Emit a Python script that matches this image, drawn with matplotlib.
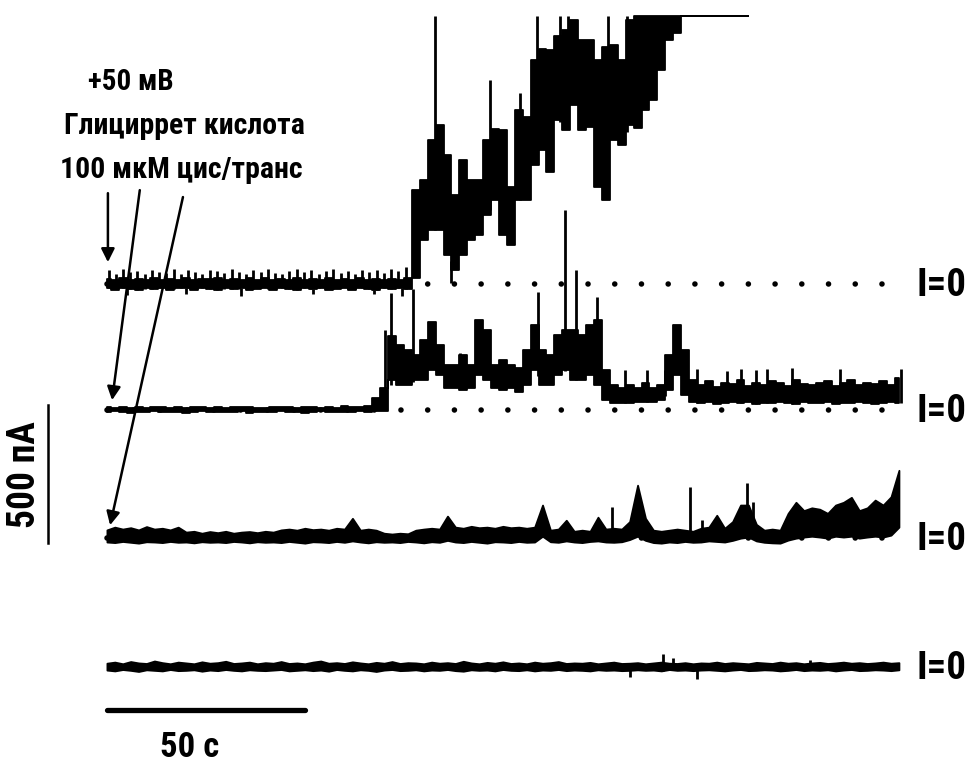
import matplotlib
matplotlib.use("Agg")
import matplotlib.pyplot as plt
import numpy as np

plt.rcParams['font.family'] = ['Roboto Condensed', 'Liberation Sans', 'DejaVu Sans']
plt.rcParams['font.weight'] = 'bold'

# time grid, s (one envelope sample every 2 s)
t = np.arange(0, 201, 2)

# vertical offset of each trace (pA), top to bottom
offsets = [1388, 931, 467, 0]

# ---- trace 1: +50 mV, top trace (saturates at the top) ----
trace1_lo = [-15, -20, -14, -18, -22, -15, -19, -14, -21, -16, -15, -20, -14, -18, -22, -16,
             -19, -15, -21, -17, -15, -20, -14, -18, -21, -15, -19, -14, -22, -17, -15, -20,
             -15, -18, -21, -16, -19, -14, -18,
             20, 160, 195, 195, 105, 50, 105, 160, 177, 250, 305, 177, 141, 305, 304, 430,
             485, 405, 594, 557, 648, 557, 568, 351, 304, 521, 503, 576, 565, 630, 666, 775,
             883, 908,
             971, 971, 971, 971, 971, 971, 971, 971, 971]
trace1_hi = [18, 15, 20, 16, 19, 14, 21, 15, 18, 16, 20, 14, 19, 17, 21, 15,
             18, 16, 20, 15, 21, 14, 19, 16, 20, 15, 18, 14, 21, 16, 19, 15,
             20, 16, 18, 15, 19, 16, 20,
             340, 375, 520, 575, 467, 322, 450, 375, 375, 520, 560, 557, 351, 630, 605, 810,
             850, 847, 900, 920, 955, 883, 883, 810, 860, 865, 810, 955, 971, 971, 971, 971,
             971, 971,
             971, 971, 971, 971, 971, 971, 971, 971, 971]
spikes1_t = [0.4, 2.2, 4.1, 5.8, 7.7, 9.5, 11.3, 13.2, 15.0, 16.9, 18.6, 20.5, 22.3, 24.1,
             26.0, 27.8, 29.6, 31.5, 33.3, 35.1, 37.0, 38.8, 40.6, 42.5, 44.3, 46.1, 48.0,
             49.8, 51.6, 53.5, 55.3, 57.1, 59.0, 60.8, 62.6, 64.5, 66.3, 68.1, 70.0, 71.8,
             73.6, 75.5,
             5.0, 20.0, 33.8, 52.0, 67.5, 74.5,
             82.8, 86.8, 96.7, 104.3, 108.6, 114.4, 116.4, 126.5, 131.3]
spikes1_a = [50, 38, 55, 42, 48, 35, 52, 45, 40, 55, 38, 50, 44, 36,
             52, 47, 40, 55, 42, 38, 50, 45, 53, 40, 37, 48, 55,
             42, 50, 38, 46, 54, 40, 48, 36, 52, 45, 50, 40, 55,
             47, 60,
             -40, -35, -42, -38, -36, -45,
             971, 5, 740, 691, 971, 971, 971, 971, 971]

# ---- trace 2 ----
trace2_lo = [-8, -5, -7, -9, -6, -7, -5, -8, -6, -7, -9, -6, -5, -7, -8, -6, -7, -5, -9, -6,
             -7, -8, -5, -6, -7, -9, -6, -5, -8, -7, -6, -7, -5,
             -8, -5, -3, 109, 90, 90, 109, 109, 145, 127, 80, 80, 72, 80, 127, 109, 80, 72,
             80, 65, 90, 145, 90, 90, 127, 145, 109, 109, 127, 90, 36, 25, 25, 25, 29, 29,
             29, 36, 72, 127, 54, 29,
             25, 29, 22, 27, 30, 25, 29, 22, 27, 25, 30, 25, 22, 29, 27, 25, 30, 22, 27, 25,
             29, 25, 22, 27, 30, 25]
trace2_hi = [10, 8, 12, 9, 11, 8, 13, 10, 9, 12, 8, 11, 10, 9, 13, 8, 11, 10, 12, 9,
             8, 11, 10, 13, 9, 12, 10, 8, 11, 9, 14, 12, 10,
             15, 43, 80, 270, 235, 217, 200, 253, 318, 235, 163, 163, 199, 163, 326, 290, 163,
             181, 163, 152, 217, 308, 217, 199, 272, 290, 290, 272, 308, 326, 145, 90, 80, 90,
             80, 100, 80, 90, 199, 308, 217, 109,
             90, 105, 85, 100, 95, 110, 88, 100, 92, 105, 98, 87, 108, 95, 90, 100, 105, 88,
             97, 110, 92, 100, 95, 105, 90, 115]
spikes2_t = [70.2, 71.7, 77.3, 89.1, 108.8, 115.7, 118.4, 123.7, 130.8, 136.4, 140.9,
             149.0, 156.6, 160.0, 164.0, 166.7, 173.0, 185.0, 200.5]
spikes2_a = [290, 424, 440, 206, 427, 724, 507, 409, 145, 145, 145,
             150, 140, 150, 145, 150, 152, 150, 150]

# ---- trace 3 ----
trace3_lo = [-14, -16, -12, -15, -18, -13, -14, -16, -12, -15,
             -14, -17, -13, -15, -14, -16, -12, -14, -17, -13,
             -15, -14, -16, -12, -15, -18, -13, -14, -16, -12,
             -15, -10, -14, -17, -13, -15, -14, -16, -12, -14,
             -17, -13, -15, -8, -14, -16, -12, -15, -18, -13,
             -14, -16, -12, -15, -14, 7, -13, -15, -10, -14,
             -16, -12, -10, -14, -15, -13, -5, 7, -8, -16,
             -18, -14, -16, -12, -15, -14, -10, -12, -14, -8,
             0, 4, -10, -15, -17, -18, -7, 0, 4, 7,
             4, 0, 7, 4, 7, 0, 4, 7, 4, 11, 40]
trace3_hi = [30, 40, 33, 38, 30, 42, 33, 36, 30, 40,
             22, 25, 18, 24, 20, 25, 18, 22, 24, 20,
             25, 22, 30, 33, 29, 36, 31, 33, 29, 36,
             33, 72, 29, 33, 29, 18, 15, 18, 16, 29,
             33, 36, 33, 80, 40, 36, 43, 38, 40, 36,
             43, 38, 40, 36, 40, 120, 29, 33, 65, 25,
             29, 25, 76, 33, 36, 33, 60, 192, 72, 29,
             25, 29, 33, 29, 25, 36, 40, 83, 36, 60,
             120, 120, 50, 29, 33, 29, 90, 130, 100, 110,
             105, 90, 120, 130, 148, 100, 110, 138, 120, 150, 246]
spikes3_t = [127.5, 147.2, 150.3, 161.6, 163.1]
spikes3_a = [112, 185, 65, 199, 130]

# ---- trace 4 (control) ----
trace4_lo = [-11, -14, -9, -12, -16, -10, -12, -14, -9, -13,
             -12, -10, -15, -11, -13, -9, -12, -14, -10, -12,
             -13, -11, -9, -14, -12, -10, -13, -11, -15, -9,
             -12, -14, -10, -12, -16, -11, -9, -13, -12, -10,
             -14, -11, -12, -9, -13, -15, -10, -12, -11, -14,
             -9, -12, -13, -10, -14, -11, -12, -9, -13, -11,
             -12, -14, -10, -12, -11, -13, -12, -10, -12, -11,
             -14, -9, -12, -11, -13, -11, -10, -12, -14, -11,
             -9, -13, -12, -10, -11, -14, -12, -9, -13, -11,
             -12, -10, -14, -11, -9, -13, -12, -10, -11, -13, -10]
trace4_hi = [14, 18, 12, 20, 15, 13, 22, 16, 12, 18,
             15, 12, 19, 14, 16, 21, 13, 15, 18, 12,
             16, 14, 20, 13, 15, 12, 18, 22, 14, 16,
             13, 19, 15, 12, 17, 14, 20, 13, 16, 15,
             12, 18, 14, 16, 13, 21, 15, 12, 17, 14,
             19, 13, 15, 12, 18, 14, 16, 20, 13, 15,
             14, 17, 12, 15, 18, 13, 14, 16, 12, 15,
             18, 14, 13, 16, 12, 15, 14, 18, 13, 16,
             14, 12, 17, 15, 13, 18, 14, 16, 12, 15,
             17, 13, 15, 18, 14, 16, 13, 15, 18, 14, 16]
spikes4_t = [132.0, 140.4, 143.0, 149.0, 177.5]
spikes4_a = [-36, 47, 33, -43, 25]

zero_label = "I=0"
scale_t = 50      # s
scale_i = 500     # pA

traces = [
    (trace1_lo, trace1_hi, spikes1_t, spikes1_a),
    (trace2_lo, trace2_hi, spikes2_t, spikes2_a),
    (trace3_lo, trace3_hi, spikes3_t, spikes3_a),
    (trace4_lo, trace4_hi, spikes4_t, spikes4_a),
]
# noisy active traces look better drawn as steps, quiet ones smooth
steps = ['mid', 'mid', None, None]

fig = plt.figure(figsize=(9.71, 7.62), dpi=100)
ax = fig.add_axes([0, 0, 1, 1])
ax.set_xlim(-27.0, 218.2)
ax.set_ylim(-344, 2417)
ax.axis('off')

for i, (lo, hi, st, sa) in enumerate(traces):
    off = offsets[i]
    tt = t[:len(lo)]
    lo = np.array(lo)
    hi = np.array(hi)
    # zero-current dotted line (first three traces)
    if i < 3:
        ax.plot([t[0], t[-1] - 2], [off, off], color='black', lw=4.0,
                dashes=(0.01, 4.8), dash_capstyle='round', zorder=1)
    ax.fill_between(tt, off + lo, off + hi, step=steps[i], color='black', lw=1.3, zorder=2)
    base = np.interp(st, tt, lo)
    ax.vlines(st, off + base, off + np.array(sa), color='black', lw=2.0, zorder=2)
    ax.text(t[-1] + 10.8, off - 5, zero_label, fontsize=28, ha='center', va='center')

# arrows pointing at trace starts
arrow_kw = dict(arrowstyle='-|>', color='black', lw=1.8, mutation_scale=20,
                shrinkA=0, shrinkB=0)
ax.annotate('', xy=(0.25, 1467), xytext=(0.25, 1717), arrowprops=arrow_kw)
ax.annotate('', xy=(1.3, 967), xytext=(8.3, 1728), arrowprops=arrow_kw)
ax.annotate('', xy=(0.8, 514), xytext=(19.2, 1703), arrowprops=arrow_kw)

ax.text(6.1, 2120, "+50 мВ", fontsize=21, ha='center', va='center')
ax.text(19.7, 1962, "Глициррет кислота", fontsize=21.5, ha='center', va='center')
ax.text(18.7, 1800, "100 мкМ цис/транс", fontsize=21.5, ha='center', va='center')

# scale bars
ax.plot([0, scale_t], [-156, -156], color='black', lw=3.8, solid_capstyle='round')
ax.text(21, -290, "50 с", fontsize=25, ha='center', va='center')
ax.plot([-14.9, -14.9], [449, 449 + scale_i], color='black', lw=1.8)
ax.text(-20.7, 699, "500 пА", fontsize=27, ha='center', va='center', rotation=90)

fig.savefig("out.png", dpi=100)
